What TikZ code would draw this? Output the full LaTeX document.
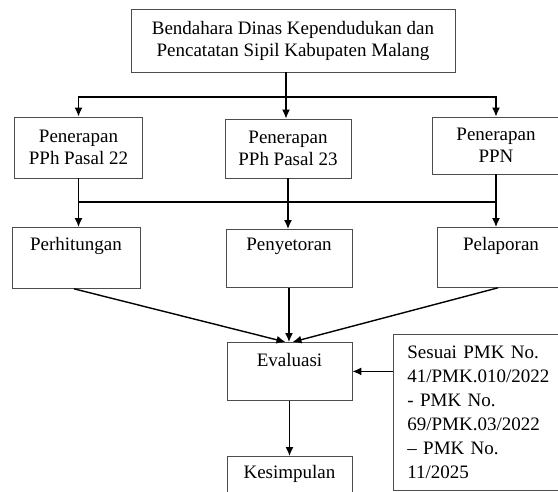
\documentclass[tikz,border=0pt]{standalone}
\usepackage{fontspec}
\setmainfont{Liberation Serif}
\usetikzlibrary{arrows.meta}
\begin{document}
\begin{tikzpicture}[x=1pt,y=-1pt,
    font=\fontsize{19}{22}\selectfont,
    kotak/.style={draw=black!70,line width=0.8pt,align=center,inner sep=0pt},
    isian/.style={kotak,minimum width=128pt},
    alur/.style={line width=1.4pt,-{Latex[length=9pt,width=8pt]}},
    garis/.style={line width=1.4pt}]
                \useasboundingbox (0,0) rectangle (558,491);
                \node[kotak,minimum width=324pt,minimum height=63pt] (bendahara) at (293,40.5) {Bendahara Dinas Kependudukan dan\\Pencatatan Sipil Kabupaten Malang};
                \node[isian,minimum height=61pt] (pph22) at (78.5,147.5) {Penerapan\\PPh Pasal 22};
                \node[isian,minimum width=126pt,minimum height=59pt] (pph23) at (288,148.5) {Penerapan\\PPh Pasal 23};
                \node[isian,minimum height=57pt] (ppn) at (496,145.5) {Penerapan\\PPN};
                \node[isian,anchor=north,text height=23pt,text depth=38pt] (hitung) at (76,227) {Perhitungan};
                \node[isian,anchor=north,minimum width=126pt,text height=21pt,text depth=37pt] (setor) at (289,229) {Penyetoran};
                \node[isian,anchor=north,text height=23pt,text depth=37pt] (lapor) at (501,227) {Pelaporan};
                \node[isian,anchor=north,minimum width=125pt,text height=24pt,text depth=34pt] (evaluasi) at (289.5,342) {Evaluasi};
                \node[isian,anchor=north,minimum width=125pt,text height=22pt,text depth=40pt] (simpulan) at (289.5,456) {Kesimpulan};
                \node[kotak,anchor=north west,align=left,text width=140pt,inner xsep=14pt,minimum height=156pt,
                      font=\fontsize{19}{24}\selectfont] (pmk) at (393,334) {Sesuai PMK No.\\41/PMK.010/2022\\- PMK No.\\69/PMK.03/2022\\– PMK No.\\11/2025};
                \coordinate (turun) at ([xshift=-7pt]bendahara.south);
                \coordinate (cabangA) at (0,97);
                \coordinate (cabangB) at (0,202);
                \draw[alur] (turun) -- (turun |- cabangA) -| (pph22.north);
                \draw[alur] (turun) -- (turun |- cabangA) -| (ppn.north);
                \draw[alur] (turun) -- (turun |- pph23.north);
                \draw[garis] (pph22.south) -- (pph22.south |- cabangB) -- (ppn.south |- cabangB) -- (ppn.south);
                \draw[garis] (pph23.south) -- (pph23.south |- cabangB);
                \draw[alur] (pph22.south |- cabangB) -- (pph22.south |- hitung.north);
                \draw[alur] (pph23.south |- cabangB) -- (pph23.south |- setor.north);
                \draw[alur] (ppn.south |- cabangB) -- (ppn.south |- lapor.north);
                \draw[alur] ([xshift=-2pt]hitung.south) -- ([xshift=-4pt]evaluasi.north);
                \draw[alur] (setor.south) -- (setor.south |- evaluasi.north);
                \draw[alur] ([xshift=-3pt]lapor.south) -- ([xshift=3pt]evaluasi.north);
                \draw[alur] (pmk.west |- evaluasi.east) -- (evaluasi.east);
                \draw[alur] (evaluasi.south) -- (simpulan.north);
            \end{tikzpicture}
\end{document}
